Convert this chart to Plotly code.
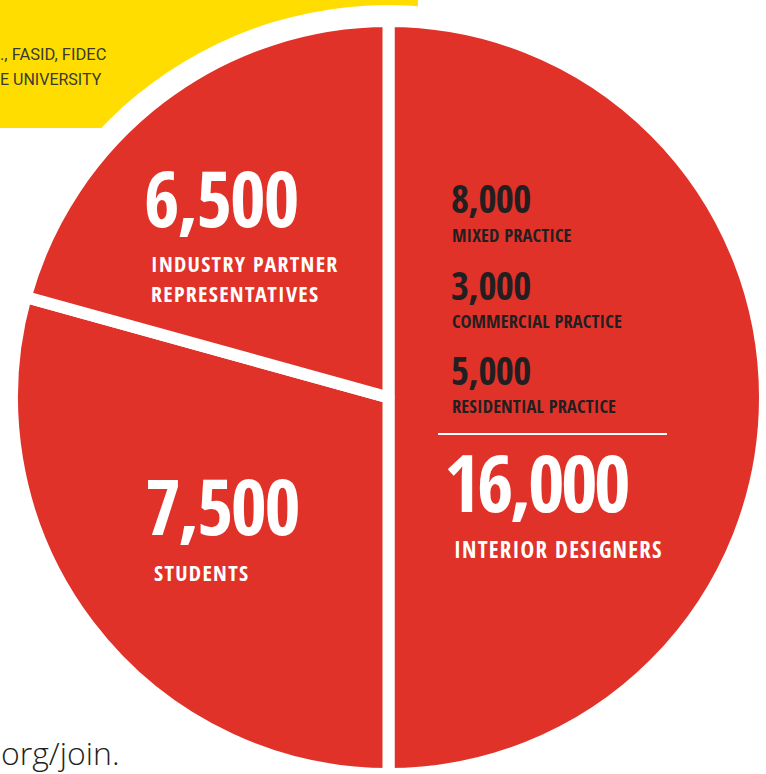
import plotly.graph_objects as go

# ---- data ----
categories = ["INTERIOR DESIGNERS", "STUDENTS", "INDUSTRY PARTNER REPRESENTATIVES"]
counts = [16000, 7500, 6500]
# share of the circle each slice occupies as drawn in the reference (percent)
slice_share = [50.0, 29.3, 20.7]
sub_categories = ["MIXED PRACTICE", "COMMERCIAL PRACTICE", "RESIDENTIAL PRACTICE"]
sub_counts = [8000, 3000, 5000]
header_lines = ["., FASID, FIDEC", "E UNIVERSITY"]
footer_text = "org/join."

W, H = 766, 774
RED = "#E1322A"
YELLOW = "#FFDD00"
DARK = "#231F20"
COND = "Open Sans Condensed, Roboto Condensed, DejaVu Sans Condensed, sans-serif"
DESC = 0.293  # font descent (em) used to place text by its baseline


def px(x):
    return x / W


def py(y):
    return 1 - y / H


fig = go.Figure()
fig.add_trace(go.Pie(
    labels=categories,
    values=slice_share,
    sort=False,
    direction="clockwise",
    rotation=0,
    textinfo="none",
    hoverinfo="skip",
    showlegend=False,
    marker=dict(colors=[RED] * len(categories), line=dict(color="white", width=12)),
    domain=dict(x=[px(12), px(765)], y=[0, py(21)]),
))

shapes = [
    dict(type="rect", xref="paper", yref="paper", x0=px(0), x1=px(418), y0=py(0), y1=py(128),
         fillcolor=YELLOW, line=dict(width=0), layer="below"),
    dict(type="circle", xref="paper", yref="paper", x0=px(388.5 - 397), x1=px(388.5 + 397),
         y0=py(402 - 397), y1=py(402 + 397), fillcolor="white", line=dict(width=0), layer="below"),
    dict(type="line", xref="paper", yref="paper", x0=px(438), x1=px(667), y0=py(434), y1=py(434),
         line=dict(color="white", width=2), layer="above"),
]

annotations = []


def ann(text, x, y, size, color, family=COND, weight="bold", anchor="left", yanchor="middle",
        spacing=None):
    if spacing is not None:
        text = f'<span style="letter-spacing:{spacing}px">{text}</span>'
    annotations.append(dict(
        text=text, x=px(x), y=py(y), xref="paper", yref="paper",
        xanchor=anchor, yanchor=yanchor, align="left", showarrow=False,
        borderpad=0, borderwidth=0,
        font=dict(family=family, size=size, color=color, weight=weight),
    ))


def line_at(text, x, baseline, size, color, spacing=None):
    """Place a single text line by its baseline."""
    ann(text, x, baseline + DESC * size, size, color, yanchor="bottom", spacing=spacing)


# industry partners
line_at(f"{counts[2]:,}", 144, 227, 77, "white", spacing=-2.0)
line_at("INDUSTRY PARTNER", 150.5, 272, 22, "white", spacing=1.3)
line_at("REPRESENTATIVES", 150.5, 302, 22, "white", spacing=1.3)
# students
line_at(f"{counts[1]:,}", 145, 535.5, 78, "white", spacing=-2.5)
line_at(categories[1], 153.5, 580.5, 22, "white", spacing=1.3)
# interior designers
line_at(f"{counts[0]:,}", 444, 512, 79, "white", spacing=-3.5)
line_at(categories[0], 453.5, 558.5, 23, "white", spacing=1.2)
# sub categories
sub_num_base = [213, 300, 385]
sub_lab_base = [242, 328, 413]
for nb_, lb_, v, name in zip(sub_num_base, sub_lab_base, sub_counts, sub_categories):
    line_at(f"{v:,}", 451, nb_, 39, DARK, spacing=-0.6)
    line_at(name, 452, lb_, 18.5, DARK, spacing=0.1)

# header on yellow block
ann(header_lines[0], 0, 54, 16.5, "#3A3A32", family="Roboto, Arial, sans-serif", weight="normal")
ann(header_lines[1], 0, 79, 16, "#3A3A32", family="Roboto, Arial, sans-serif", weight="normal")
# footer
ann(footer_text, 120, 752, 32, DARK, family="Open Sans, Noto Sans, sans-serif", weight=300, anchor="right")

fig.update_layout(
    width=W, height=H,
    margin=dict(l=0, r=0, t=0, b=0),
    paper_bgcolor="white",
    plot_bgcolor="white",
    shapes=shapes,
    annotations=annotations,
    showlegend=False,
)

fig.write_html("out.html", config={"displayModeBar": False},
               post_script="document.body.style.margin='0px';")
